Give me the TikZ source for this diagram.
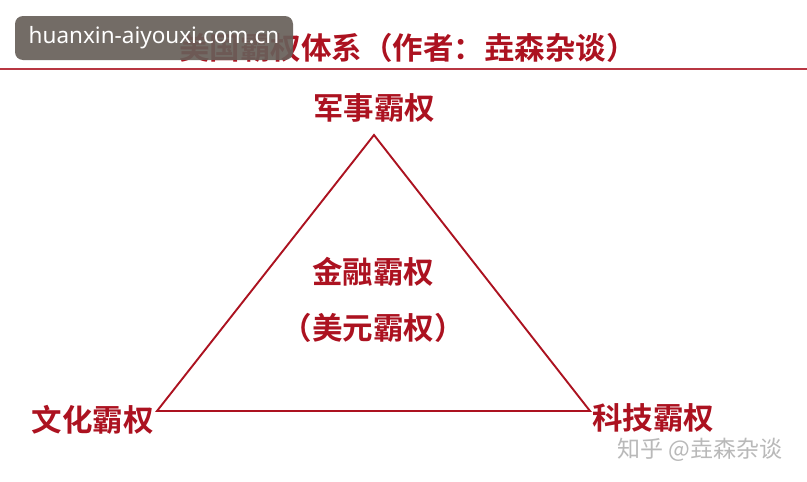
\documentclass[tikz,border=0pt]{standalone}
\usepackage{fontspec}
\setsansfont{Noto Sans}
\newfontfamily\cjk{Noto Sans CJK SC}[BoldFont={Noto Sans CJK SC Bold}]
\usepackage{tikz}
\usetikzlibrary{positioning, calc, backgrounds}
\definecolor{hegred}{RGB}{172,18,32}
\definecolor{markgray}{RGB}{104,96,90}
\tikzset{power/.style = {text=hegred, font=\cjk\bfseries\fontsize{30.5}{32}\selectfont, inner sep=0pt},
         edge/.style = {draw=hegred, line width=1.9pt, line join=miter}}

\begin{document}
\begin{tikzpicture}[x=1pt, y=-1pt]
        \useasboundingbox [fill=white] (0,0) rectangle (807,482);
        % title and rule
        \node [power, font=\cjk\bfseries\fontsize{30.5}{32}\selectfont] (title) at (408,48) {美国霸权体系（作者：垚森杂谈）};
        \draw [hegred!85, line width=1.8pt] (0,69) -- (807,69);
        % triangle
        \coordinate (top) at (374,135);
        \coordinate (left) at (157,411);
        \coordinate (right) at (590,411);
        \draw [edge] (top) -- (right) -- (left) -- cycle;
        \node [power, above=12pt of top] (mil) {军事霸权};
        \node [power, anchor=east] (cul) at ($(left)+(-3,9)$) {文化霸权};
        \node [power, anchor=west] (tech) at ($(right)+(2,7)$) {科技霸权};
        \node [power] (fin) at (373,272) {金融霸权};
        \node [power, below=26pt of fin] (usd) {（美元霸权）};
        % watermarks
        \node [fill=markgray, fill opacity=0.92, text opacity=1, rounded corners=8pt,
               minimum width=278pt, minimum height=44pt, text=white,
               font=\sffamily\fontsize{22.5}{24}\selectfont] (site) at (154,38) {huanxin-aiyouxi.com.cn};
        \node [text=gray!55, font=\cjk\fontsize{23}{24}\selectfont, inner sep=0pt] (zhihu) at (700,450) {知乎 @垚森杂谈};
    \end{tikzpicture}
\end{document}
